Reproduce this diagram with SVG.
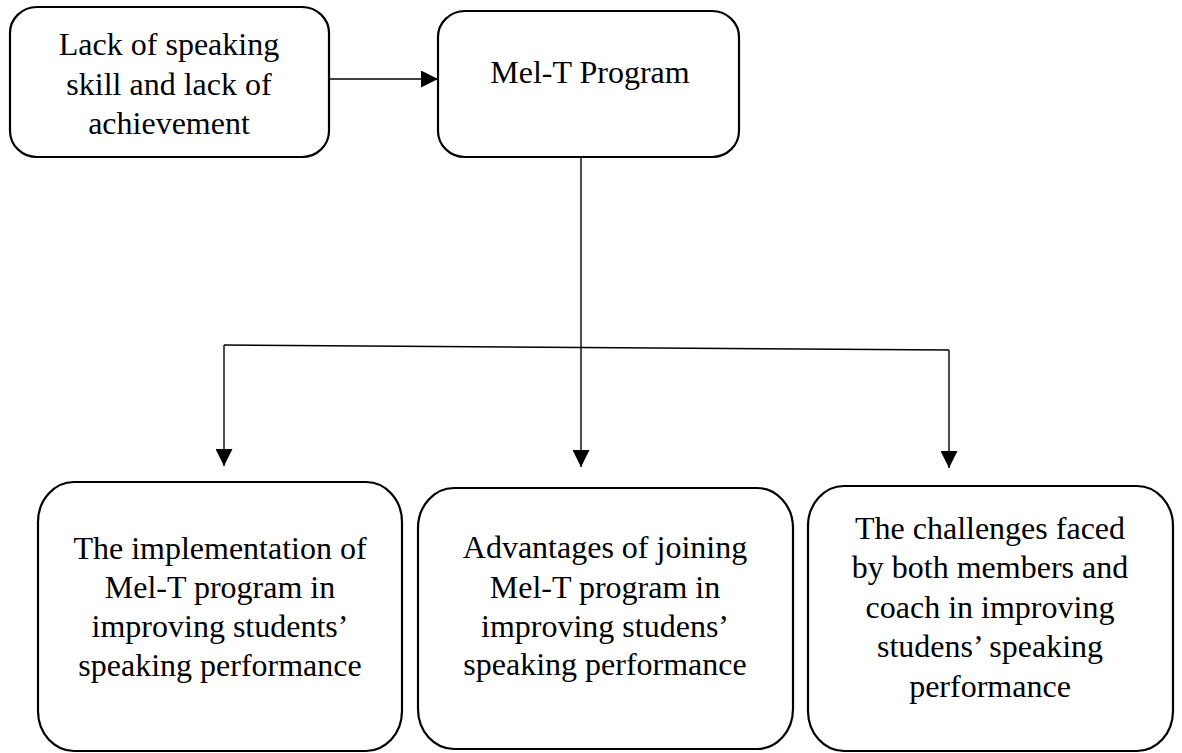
<svg xmlns="http://www.w3.org/2000/svg" width="1182" height="753" viewBox="0 0 1182 753">
<style>
.box{fill:#ffffff;stroke:#000000;stroke-width:2.2}
.lbl{font-family:"Liberation Serif","Times New Roman",serif;font-size:32px;fill:#000000;text-anchor:middle}
.conn{fill:none;stroke:#000000;stroke-width:1.4}
</style>
<defs>
<marker id="arr" markerUnits="userSpaceOnUse" markerWidth="17" markerHeight="17" viewBox="0 0 16 16" refX="16" refY="8" orient="auto">
<path d="M0,0 L16,8 L0,16 Z" fill="#000000"/>
</marker>
</defs>
<rect width="1182" height="753" fill="#ffffff"/>
<g id="connectors">
<path class="conn" d="M330,79 L438,79" marker-end="url(#arr)"/>
<path class="conn" d="M581,157 L581,467" marker-end="url(#arr)"/>
<path class="conn" d="M224,345 L949,350"/>
<path class="conn" d="M224,345 L224,466" marker-end="url(#arr)"/>
<path class="conn" d="M949,350 L949,468" marker-end="url(#arr)"/>
</g>
<g id="node-lack">
<rect class="box" x="10" y="7" width="319" height="150" rx="27" ry="26"/>
<text class="lbl" x="169" y="55">Lack of speaking</text>
<text class="lbl" x="169" y="95">skill and lack of</text>
<text class="lbl" x="169" y="134">achievement</text>
</g>
<g id="node-melt">
<rect class="box" x="438" y="11" width="301" height="146" rx="27" ry="26"/>
<text class="lbl" x="590" y="83">Mel-T Program</text>
</g>
<g id="node-implementation">
<rect class="box" x="38" y="482" width="364" height="269" rx="36" ry="40"/>
<text class="lbl" x="220" y="559">The implementation of</text>
<text class="lbl" x="220" y="598">Mel-T program in</text>
<text class="lbl" x="220" y="637">improving students’</text>
<text class="lbl" x="220" y="676">speaking performance</text>
</g>
<g id="node-advantages">
<rect class="box" x="418" y="488" width="375" height="261" rx="36" ry="40"/>
<text class="lbl" x="605" y="558">Advantages of joining</text>
<text class="lbl" x="605" y="598">Mel-T program in</text>
<text class="lbl" x="605" y="637">improving studens’</text>
<text class="lbl" x="605" y="675">speaking performance</text>
</g>
<g id="node-challenges">
<rect class="box" x="808" y="486" width="365" height="265" rx="36" ry="40"/>
<text class="lbl" x="990" y="539">The challenges faced</text>
<text class="lbl" x="990" y="578">by both members and</text>
<text class="lbl" x="990" y="618">coach in improving</text>
<text class="lbl" x="990" y="657">studens’ speaking</text>
<text class="lbl" x="990" y="697">performance</text>
</g>
</svg>
